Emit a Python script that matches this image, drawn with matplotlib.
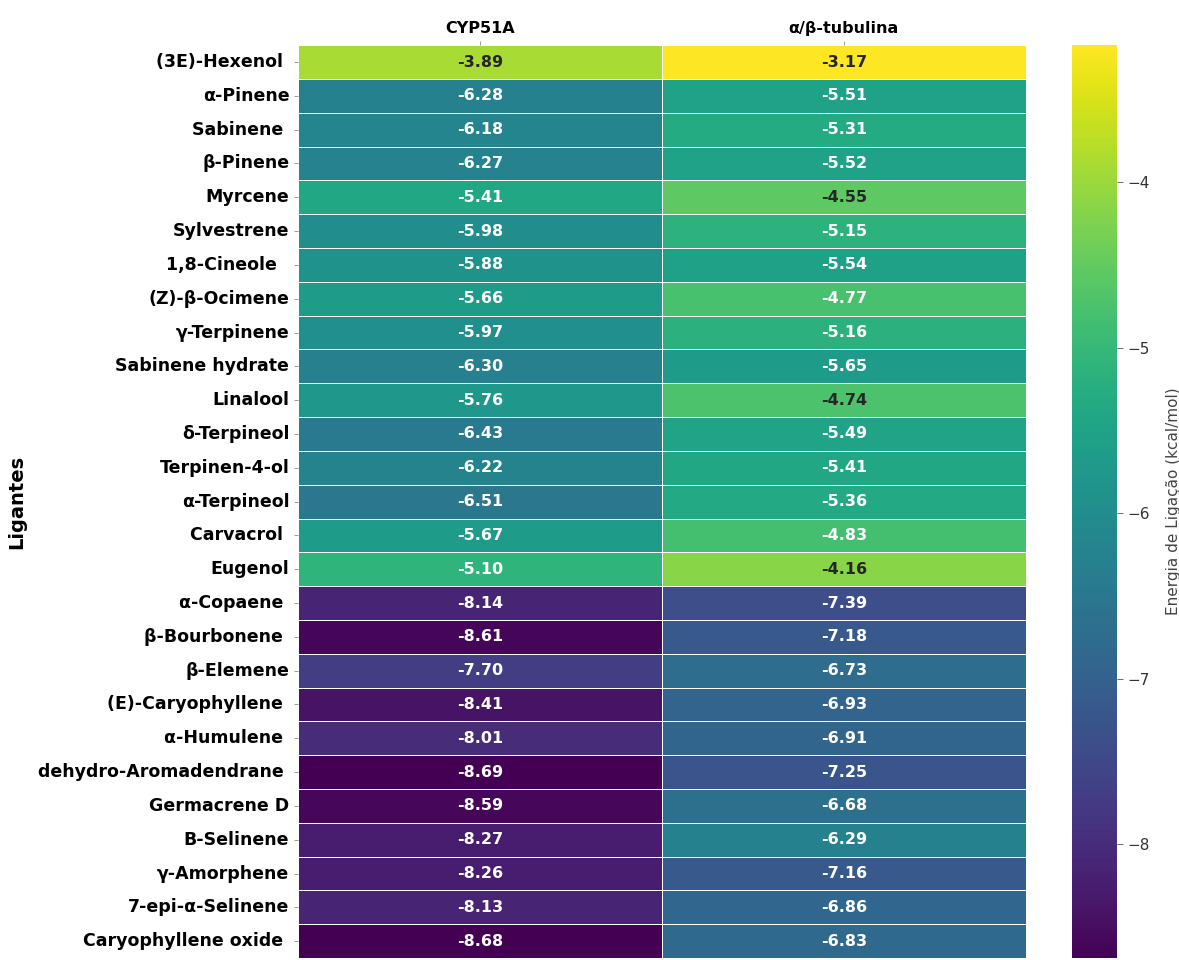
import numpy as np
import pandas as pd
import matplotlib
matplotlib.use("Agg")
import matplotlib.pyplot as plt
import seaborn as sns

ligands = ["(3E)-Hexenol ", "α-Pinene", "Sabinene ", "β-Pinene", "Myrcene",
           "Sylvestrene", "1,8-Cineole  ", "(Z)-β-Ocimene", "γ-Terpinene",
           "Sabinene hydrate", "Linalool", "δ-Terpineol", "Terpinen-4-ol",
           "α-Terpineol", "Carvacrol ", "Eugenol", "α-Copaene ", "β-Bourbonene ",
           "β-Elemene", "(E)-Caryophyllene ", "α-Humulene ", "dehydro-Aromadendrane ",
           "Germacrene D", "B-Selinene", "γ-Amorphene", "7-epi-α-Selinene",
           "Caryophyllene oxide "]
targets = ["CYP51A", "α/β-tubulina"]
cyp51a = [-3.89, -6.28, -6.18, -6.27, -5.41, -5.98, -5.88, -5.66, -5.97, -6.30,
          -5.76, -6.43, -6.22, -6.51, -5.67, -5.10, -8.14, -8.61, -7.70, -8.41,
          -8.01, -8.69, -8.59, -8.27, -8.26, -8.13, -8.68]
tubulina = [-3.17, -5.51, -5.31, -5.52, -4.55, -5.15, -5.54, -4.77, -5.16, -5.65,
            -4.74, -5.49, -5.41, -5.36, -4.83, -4.16, -7.39, -7.18, -6.73, -6.93,
            -6.91, -7.25, -6.68, -6.29, -7.16, -6.86, -6.83]

df = pd.DataFrame({targets[0]: cyp51a, targets[1]: tubulina}, index=ligands)

fig = plt.figure(figsize=(11.79, 9.6), dpi=100)
ax = fig.add_axes([0.253, 0.002, 0.617, 0.951])
cax = fig.add_axes([0.909, 0.002, 0.038, 0.951])

sns.heatmap(df, ax=ax, cbar_ax=cax, cmap="viridis", annot=True, fmt=".2f",
            linewidths=0.5, linecolor="white",
            annot_kws={"fontsize": 11.5, "fontweight": "bold"},
            cbar_kws={"label": "Energia de Ligação (kcal/mol)"})

ax.xaxis.tick_top()
ax.set_xticklabels(targets, fontsize=11.5, fontweight="bold", rotation=0)
ax.set_yticklabels(ligands, fontsize=12.5, fontweight="bold", rotation=0)
ax.tick_params(axis="x", length=3, width=0.6, color="#888888")
ax.tick_params(axis="y", length=3, width=0.6, color="#888888")
ax.set_ylabel("Ligantes", fontsize=14, fontweight="bold", labelpad=8)
ax.set_xlabel("")

cax.tick_params(labelsize=11, length=4, width=0.6, color="#555555", labelcolor="#333333")
cax.yaxis.label.set_size(11)
cax.yaxis.label.set_color("#444444")
cax.yaxis.labelpad = 12
for s in cax.spines.values():
    s.set_visible(False)

fig.savefig("out.png", dpi=100)
